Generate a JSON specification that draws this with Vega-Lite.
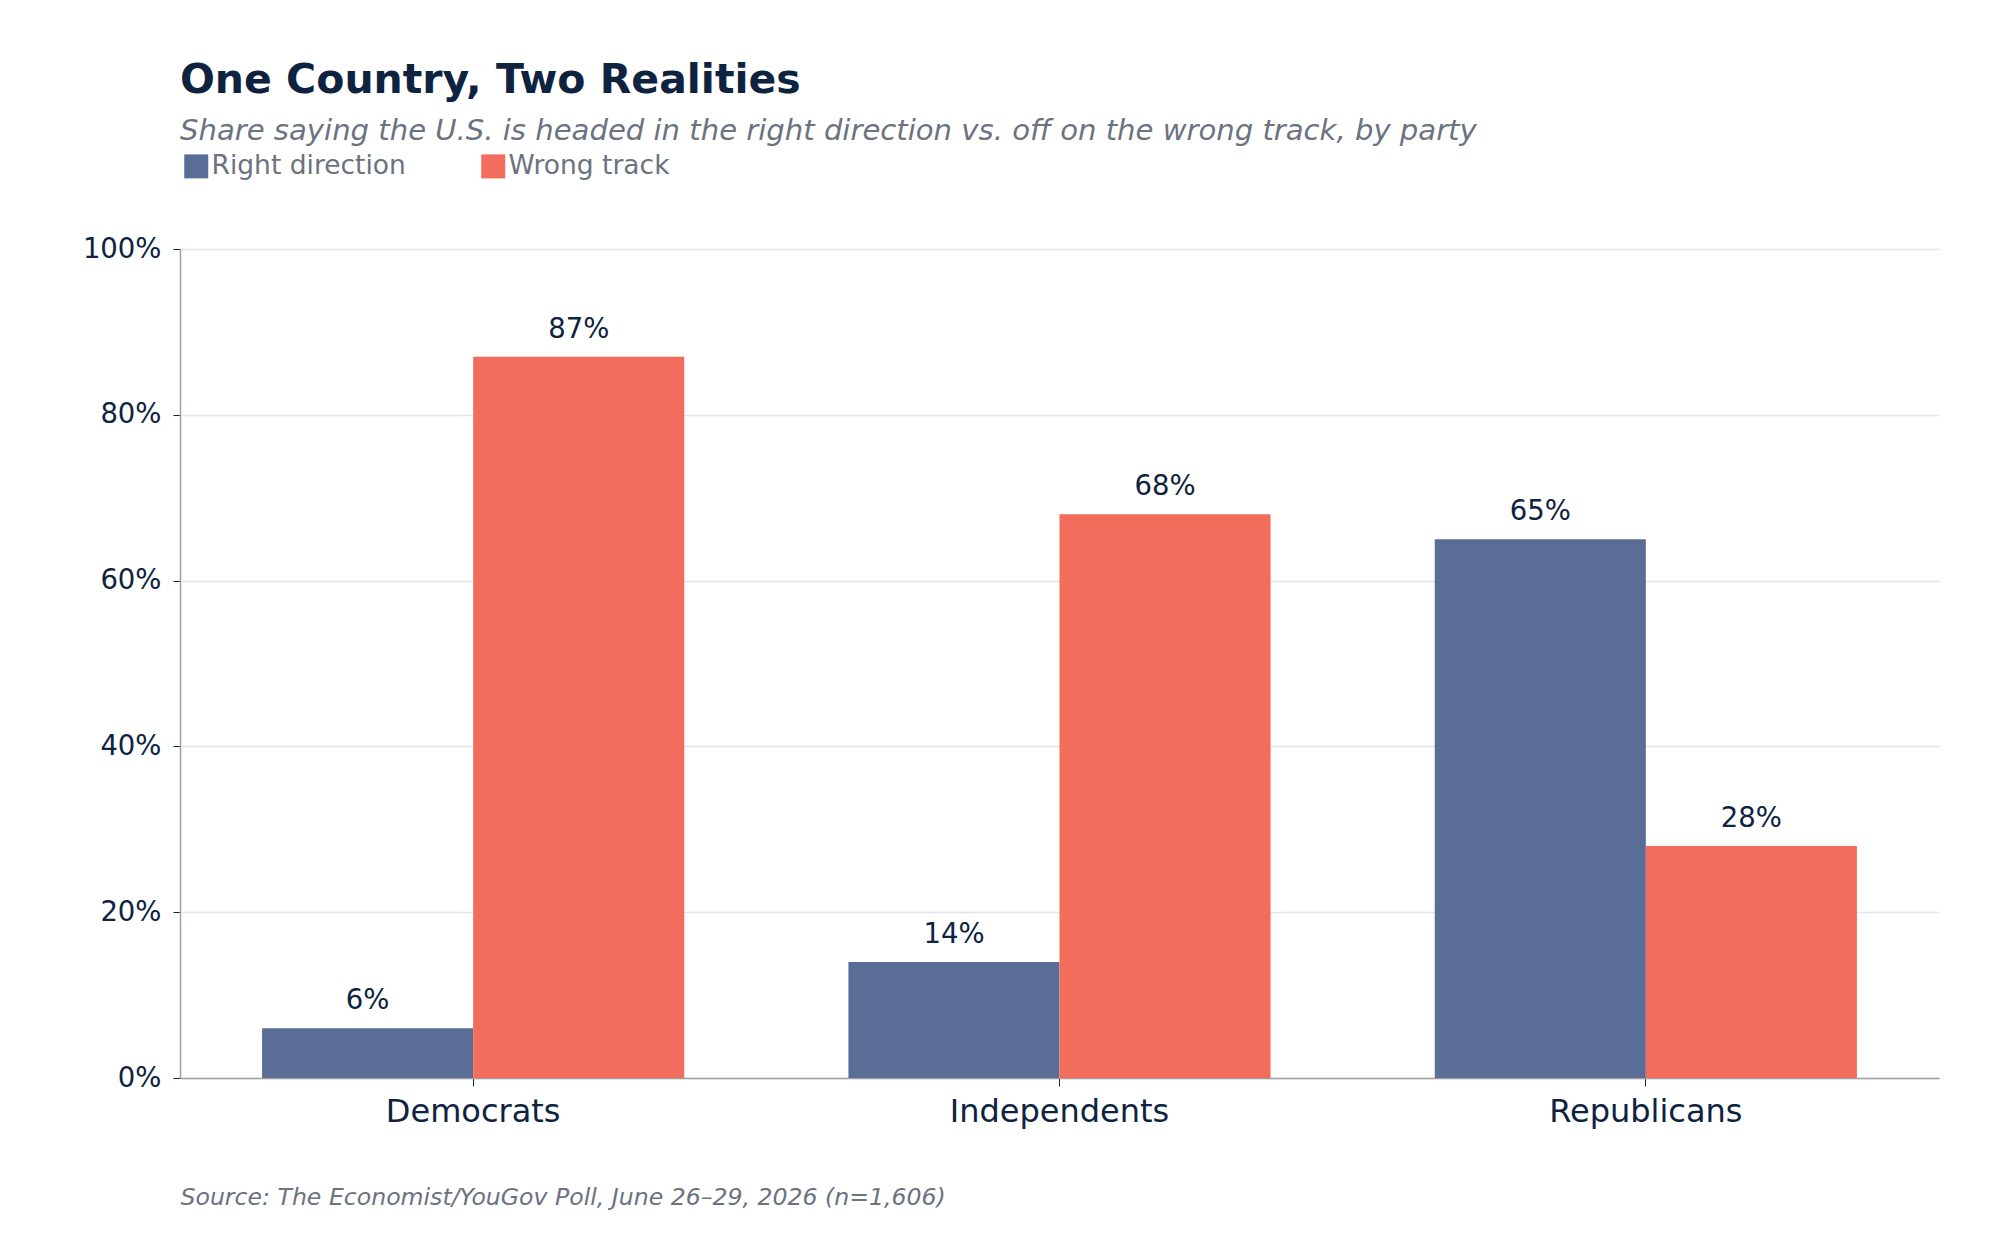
{
  "$schema": "https://vega.github.io/schema/vega-lite/v6.json",
  "autosize": {"type": "none"},
  "width": 1759,
  "height": 829,
  "padding": {"left": 180, "top": 249, "right": 61, "bottom": 162},
  "background": "white",
  "title": {
    "text": "One Country, Two Realities",
    "subtitle": "Share saying the U.S. is headed in the right direction vs. off on the wrong track, by party",
    "anchor": "start",
    "frame": "group",
    "font": "DejaVu Sans",
    "fontSize": 41,
    "fontWeight": "bold",
    "color": "#0d2340",
    "subtitleFont": "DejaVu Sans",
    "subtitleFontSize": 29.1,
    "subtitleFontStyle": "italic",
    "subtitleColor": "#6b7280",
    "subtitlePadding": 15,
    "offset": 6
  },
  "data": {
    "values": [
      {"party": "Democrats", "response": "Right direction", "share": 0.06},
      {"party": "Democrats", "response": "Wrong track", "share": 0.87},
      {"party": "Independents", "response": "Right direction", "share": 0.14},
      {"party": "Independents", "response": "Wrong track", "share": 0.68},
      {"party": "Republicans", "response": "Right direction", "share": 0.65},
      {"party": "Republicans", "response": "Wrong track", "share": 0.28}
    ]
  },
  "encoding": {
    "x": {
      "field": "party",
      "type": "nominal",
      "sort": ["Democrats", "Independents", "Republicans"],
      "scale": {"paddingInner": 0.28, "paddingOuter": 0.14},
      "axis": {
        "labelAngle": 0,
        "labelLimit": 0,
        "labelFontSize": 32,
        "labelColor": "#0d2340",
        "labelPadding": 10,
        "tickSize": 8,
        "tickColor": "#0d2340",
        "domainColor": "#a0a0a0",
        "domainWidth": 1.5,
        "grid": false,
        "title": "Source: The Economist/YouGov Poll, June 26–29, 2026 (n=1,606)",
        "titleAnchor": "start",
        "titleAlign": "left",
        "titleX": 0,
        "titleY": 126,
        "titleBaseline": "alphabetic",
        "titleFontSize": 23.6,
        "titleFontStyle": "italic",
        "titleFontWeight": "normal",
        "titleColor": "#6b7280",
        "titleLimit": 0
      }
    },
    "xOffset": {
      "field": "response",
      "type": "nominal",
      "sort": ["Right direction", "Wrong track"],
      "scale": {"paddingInner": 0, "paddingOuter": 0}
    },
    "y": {
      "field": "share",
      "type": "quantitative",
      "scale": {"domain": [0, 1], "nice": false},
      "axis": {
        "values": [0, 0.2, 0.4, 0.6, 0.8, 1],
        "format": ".0%",
        "title": null,
        "labelFontSize": 27.5,
        "labelColor": "#0d2340",
        "labelPadding": 12,
        "tickSize": 7,
        "tickColor": "#0d2340",
        "domainColor": "#a0a0a0",
        "domainWidth": 1.5,
        "grid": true,
        "gridColor": "#e1e4ea",
        "gridWidth": 1.5
      }
    }
  },
  "layer": [
    {
      "mark": {"type": "bar"},
      "encoding": {
        "color": {
          "field": "response",
          "type": "nominal",
          "scale": {"domain": ["Right direction", "Wrong track"], "range": ["#5a6d96", "#f26d5b"]},
          "legend": {
            "orient": "none",
            "legendX": 3,
            "legendY": -96,
            "direction": "horizontal",
            "title": null,
            "padding": 0,
            "symbolType": "square",
            "symbolSize": 576,
            "symbolStrokeWidth": 0,
            "symbolOpacity": 1,
            "labelFontSize": 26.5,
            "labelColor": "#6b7280",
            "labelOffset": 2,
            "labelLimit": 0,
            "columnPadding": 74
          }
        }
      }
    },
    {
      "mark": {"type": "text", "dy": -19, "baseline": "alphabetic", "fontSize": 27.5, "color": "#0d2340"},
      "encoding": {
        "text": {"field": "share", "type": "quantitative", "format": ".0%"}
      }
    }
  ],
  "config": {
    "font": "DejaVu Sans",
    "view": {"stroke": null}
  }
}
